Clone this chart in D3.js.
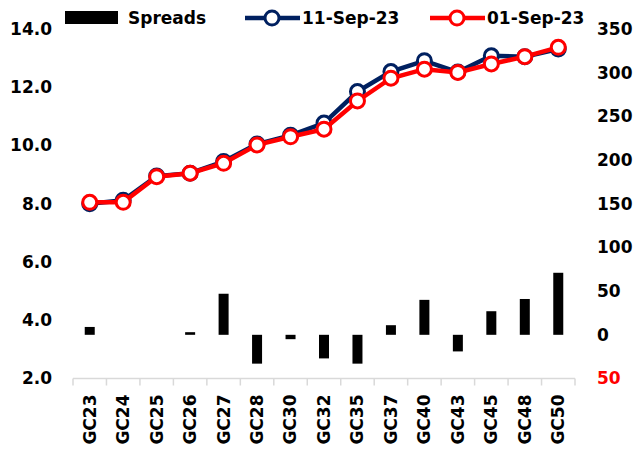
<!DOCTYPE html>
<html lang="en">
<head>
    <meta charset="UTF-8">
    <title>GC yields and spreads</title>
    <script src="https://d3js.org/d3.v7.min.js"></script>
    <style>
        body {
            margin: 0;
            background-color: #ffffff;
        }
        text {
            font-family: 'DejaVu Sans', sans-serif;
            font-weight: bold;
            font-size: 17px;
            fill: #000;
        }
    </style>
</head>
<body>
    <svg id="chart"></svg>

    <script>
        const categories = ["GC23", "GC24", "GC25", "GC26", "GC27", "GC28", "GC30", "GC32",
                            "GC35", "GC37", "GC40", "GC43", "GC45", "GC48", "GC50"];
        const sep11 = [8.00, 8.12, 8.95, 9.05, 9.45, 10.05, 10.35, 10.77, 11.85, 12.54, 12.91, 12.52, 13.08, 13.05, 13.31];
        const sep01 = [8.05, 8.05, 8.93, 9.05, 9.39, 10.02, 10.30, 10.56, 11.53, 12.31, 12.62, 12.51, 12.80, 13.05, 13.37];
        const spreads = [9, 0, 0, 3, 47, -33, -5, -27, -33, 11, 40, -19, 27, 41, 71];
        const leftTicks = [2, 4, 6, 8, 10, 12, 14];
        const rightTicks = [-50, 0, 50, 100, 150, 200, 250, 300, 350];

        const W = 636, H = 451;
        const plot = {left: 73, right: 575, top: 29, bottom: 378.5};

        const svg = d3.select("#chart")
            .attr("width", W)
            .attr("height", H);

        const x = d3.scaleBand()
            .domain(categories)
            .range([plot.left, plot.right])
            .padding(0);

        const yL = d3.scaleLinear().domain([2, 14]).range([plot.bottom, plot.top]);
        const yR = d3.scaleLinear().domain([-50, 350]).range([plot.bottom, plot.top]);

        const cx = d => x(d) + x.bandwidth() / 2;

        // x axis line and boundary ticks
        svg.append("line")
            .attr("x1", plot.left).attr("x2", plot.right)
            .attr("y1", plot.bottom).attr("y2", plot.bottom)
            .attr("stroke", "#d9d9d9").attr("stroke-width", 1.5);

        const bounds = categories.map(c => x(c)).concat([plot.right]);
        svg.selectAll(".btick")
            .data(bounds)
            .enter().append("line")
            .attr("x1", d => d).attr("x2", d => d)
            .attr("y1", plot.bottom).attr("y2", plot.bottom + 7)
            .attr("stroke", "#d9d9d9").attr("stroke-width", 1.5);

        // category labels
        const xAxis = svg.append("g")
            .attr("transform", `translate(0,${plot.bottom})`)
            .call(d3.axisBottom(x).tickSize(0));
        xAxis.select(".domain").remove();
        xAxis.selectAll("text")
            .attr("transform", "rotate(-90)")
            .attr("x", -16)
            .attr("y", 0)
            .attr("dy", "0.35em")
            .style("text-anchor", "end")
            .style("font-size", null)
            .style("font-family", null);

        // left axis
        const leftAxis = svg.append("g")
            .attr("transform", `translate(${plot.left},0)`)
            .call(d3.axisLeft(yL).tickValues(leftTicks).tickSize(0).tickPadding(21).tickFormat(d3.format(".1f")));
        leftAxis.select(".domain").remove();
        leftAxis.selectAll("text").attr("font-size", null).attr("font-family", null);

        // right axis
        const rightAxis = svg.append("g")
            .attr("transform", `translate(${plot.right},0)`)
            .call(d3.axisRight(yR).tickValues(rightTicks).tickSize(0).tickPadding(22).tickFormat(d => Math.abs(d)));
        rightAxis.select(".domain").remove();
        rightAxis.selectAll("text")
            .attr("font-size", null).attr("font-family", null)
            .style("fill", d => d < 0 ? "#ff0000" : "#000");

        // spread bars
        svg.selectAll(".bar")
            .data(spreads.map((v, i) => ({c: categories[i], v: v})))
            .enter().append("rect")
            .attr("class", "bar")
            .attr("x", d => cx(d.c) - 5)
            .attr("width", 10)
            .attr("y", d => Math.min(yR(0), yR(d.v)))
            .attr("height", d => Math.abs(yR(d.v) - yR(0)))
            .attr("fill", "#000");

        // yield lines
        const series = [
            {name: "11-Sep-23", values: sep11, color: "#002060"},
            {name: "01-Sep-23", values: sep01, color: "#ff0000"}
        ];

        const line = d3.line()
            .x(d => cx(d.c))
            .y(d => yL(d.v));

        series.forEach(s => {
            const pts = s.values.map((v, i) => ({c: categories[i], v: v}));
            svg.append("path")
                .datum(pts)
                .attr("fill", "none")
                .attr("stroke", s.color)
                .attr("stroke-width", 4.5)
                .attr("d", line);
            svg.selectAll(null)
                .data(pts)
                .enter().append("circle")
                .attr("cx", d => cx(d.c))
                .attr("cy", d => yL(d.v))
                .attr("r", 7)
                .attr("fill", "#fff")
                .attr("stroke", s.color)
                .attr("stroke-width", 3);
        });

        // legend
        const legendY = 18;
        svg.append("rect")
            .attr("x", 65).attr("y", 11)
            .attr("width", 53).attr("height", 13)
            .attr("fill", "#000");
        svg.append("text")
            .attr("x", 128).attr("y", legendY).attr("dy", "0.35em")
            .text("Spreads");

        const legendPos = [245, 430];
        series.forEach((s, i) => {
            const lx = legendPos[i];
            svg.append("line")
                .attr("x1", lx).attr("x2", lx + 55)
                .attr("y1", legendY).attr("y2", legendY)
                .attr("stroke", s.color).attr("stroke-width", 4.5);
            svg.append("circle")
                .attr("cx", lx + 27).attr("cy", legendY)
                .attr("r", 7)
                .attr("fill", "#fff")
                .attr("stroke", s.color)
                .attr("stroke-width", 3);
            svg.append("text")
                .attr("x", lx + 57).attr("y", legendY).attr("dy", "0.35em")
                .text(s.name);
        });
    </script>
</body>
</html>
